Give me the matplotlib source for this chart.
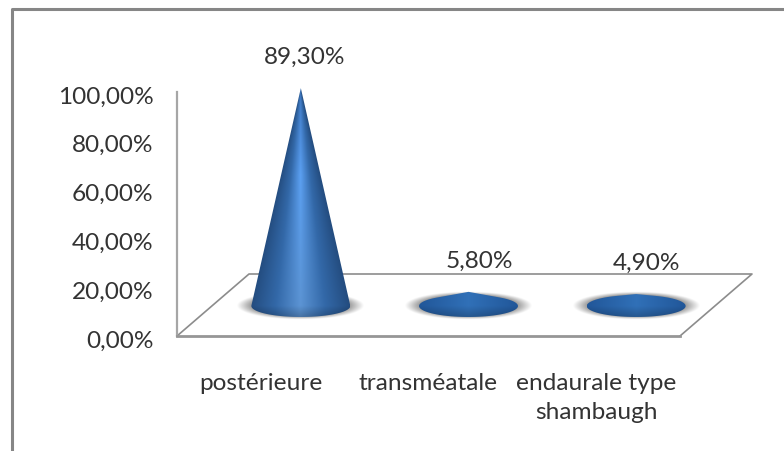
import numpy as np
import matplotlib
matplotlib.use("Agg")
import matplotlib.pyplot as plt
from matplotlib.patches import PathPatch
from matplotlib.path import Path
from matplotlib.lines import Line2D
from matplotlib.transforms import ScaledTranslation

categories = ["postérieure", "transméatale", "endaurale type\nshambaugh"]
values = [89.3, 5.8, 4.9]
value_labels = ["89,30%", "5,80%", "4,90%"]
y_ticks = [0, 20, 40, 60, 80, 100]
y_tick_labels = ["0,00%", "20,00%", "40,00%", "60,00%", "80,00%", "100,00%"]

W, H = 784, 452
FS = 17.6
TEXT = "#333333"
plt.rcParams["font.family"] = ["Lato", "DejaVu Sans"]

fig = plt.figure(figsize=(W / 100, H / 100), dpi=100, facecolor="white")
# plot area in pixels: x 177-680, y 93-337
ax = fig.add_axes([177 / W, 1 - 337 / H, (680 - 177) / W, (337 - 93) / H])
ax.patch.set_visible(False)

# depth of the floor and where the cones stand on it
depth_x = 72 / 167.67
depth_y = 62 / 2.44
base_dx = 40 / 167.67
base_dy = 30 / 2.44
rx = 0.295
ry = 4.5

# outer frame, only left and top are in the picture
fig.add_artist(Line2D([12 / W, 12 / W, 1], [0, 1 - 10 / H, 1 - 10 / H],
                      color="#868686", lw=2.2))

# floor back edges
floor_x = [0, depth_x, 3 + depth_x, 3]
floor_y = [0, depth_y, depth_y, 0]
ax.plot(floor_x, floor_y, color="#8c8c8c", lw=1.2, clip_on=False, zorder=1)


def draw_shadow(cx, cy):
    xs = np.linspace(cx - 0.42, cx + 0.42, 200)
    ys = np.linspace(cy - 7, cy + 7, 80)
    xx, yy = np.meshgrid(xs, ys)
    d = np.sqrt(((xx - cx) / 0.38) ** 2 + ((yy - cy) / 5.6) ** 2)
    alpha = np.clip((1.0 - d) / 0.25, 0, 1) * 0.85
    img = np.ones(xx.shape + (4,))
    img[..., :3] = 0.5
    img[..., 3] = alpha
    im = ax.imshow(img, extent=[xs[0], xs[-1], ys[0], ys[-1]], origin="lower", aspect="auto",
                   zorder=2, interpolation="bilinear")
    im.set_clip_box(fig.bbox)


def draw_cone(cx, cy, h):
    # outline: lower part of the ellipse plus the tangents up to the apex
    k = h / ry
    t0 = np.arcsin(1 / k) if k > 1 else 0.0
    theta = np.linspace(t0, -np.pi - t0, 80)
    px = cx + rx * np.cos(theta)
    py = cy + ry * np.sin(theta)
    verts = np.column_stack([np.r_[px, cx, px[0]], np.r_[py, cy + h, py[0]]])
    codes = [Path.MOVETO] + [Path.LINETO] * (len(verts) - 2) + [Path.CLOSEPOLY]
    outline = PathPatch(Path(verts, codes), transform=ax.transData, fc="none", ec="none")
    ax.add_patch(outline)

    xs = np.linspace(cx - rx, cx + rx, 240)
    ys = np.linspace(cy - ry, cy + h, 300)
    xx, yy = np.meshgrid(xs, ys)
    t = np.clip((yy - cy) / h, 0, 1)
    scale = np.clip(1 - t, 0.02, 1)
    u = np.abs(xx - cx) / (rx * scale)
    tall = h > 40
    img = np.zeros(xx.shape + (3,))
    if tall:
        # highlight changes along the height of the cone
        light_r = np.interp(t, [0, 0.6, 1], [0.36, 0.36, 0.25])
        light_g = np.interp(t, [0, 0.6, 1], [0.58, 0.63, 0.48])
        light_b = np.interp(t, [0, 0.6, 1], [0.83, 0.95, 0.78])
        light = np.dstack([light_r, light_g, light_b])
        mid = np.array([0.20, 0.41, 0.66])
        edge = np.array([0.14, 0.30, 0.50])
        for c in range(3):
            img[..., c] = np.where(
                u < 0.5,
                light[..., c] + (mid[c] - light[..., c]) * (u / 0.5),
                mid[c] + (edge[c] - mid[c]) * np.clip((u - 0.5) / 0.5, 0, 1),
            )
    else:
        light = np.array([0.19, 0.44, 0.72])
        edge = np.array([0.13, 0.34, 0.60])
        for c in range(3):
            img[..., c] = np.interp(np.abs(xx - cx) / rx, [0, 1], [light[c], edge[c]])
    # front of the base gets a bit darker
    front = np.clip((cy - yy) / ry, 0, 1)[..., None]
    img = img * (1 - 0.22 * front)
    im = ax.imshow(np.clip(img, 0, 1), extent=[xs[0], xs[-1], ys[0], ys[-1]], origin="lower",
                   aspect="auto", zorder=3, interpolation="bilinear")
    im.set_clip_box(fig.bbox)
    im.set_clip_path(outline)


for i, v in enumerate(values):
    cx = i + 0.5 + base_dx
    draw_shadow(cx, base_dy)
    draw_cone(cx, base_dy, v)

# value labels sit above the apex
label_shift = [4, 11, 10]
for i, v in enumerate(values):
    ax.annotate(value_labels[i], (i + 0.5 + base_dx, base_dy + v),
                xytext=(label_shift[i] * 0.72, 31.5 * 0.72), textcoords="offset points",
                ha="center", va="center", fontsize=FS, color=TEXT,
                annotation_clip=False, zorder=5)

ax.set_xlim(0, 3)
ax.set_ylim(0, 100)
ax.set_xticks([i + 0.5 for i in range(len(categories))])
ax.set_xticklabels(categories, fontsize=FS, color=TEXT, linespacing=1.48)
ax.set_yticks(y_ticks)
ax.set_yticklabels(y_tick_labels, fontsize=FS, color=TEXT, va="center")
ax.tick_params(axis="x", length=0, pad=26)
ax.tick_params(axis="y", length=0, pad=17)

# tick labels sit a little under their value in the original
down = ScaledTranslation(0, -4 / 100, fig.dpi_scale_trans)
for lbl in ax.get_yticklabels():
    lbl.set_transform(lbl.get_transform() + down)

for s in ["top", "right"]:
    ax.spines[s].set_visible(False)
ax.spines["left"].set_color("#a6a6a6")
ax.spines["left"].set_linewidth(1.6)
ax.spines["bottom"].set_color("#969696")
ax.spines["bottom"].set_linewidth(2.0)

fig.savefig("out.png", dpi=100, facecolor="white")
